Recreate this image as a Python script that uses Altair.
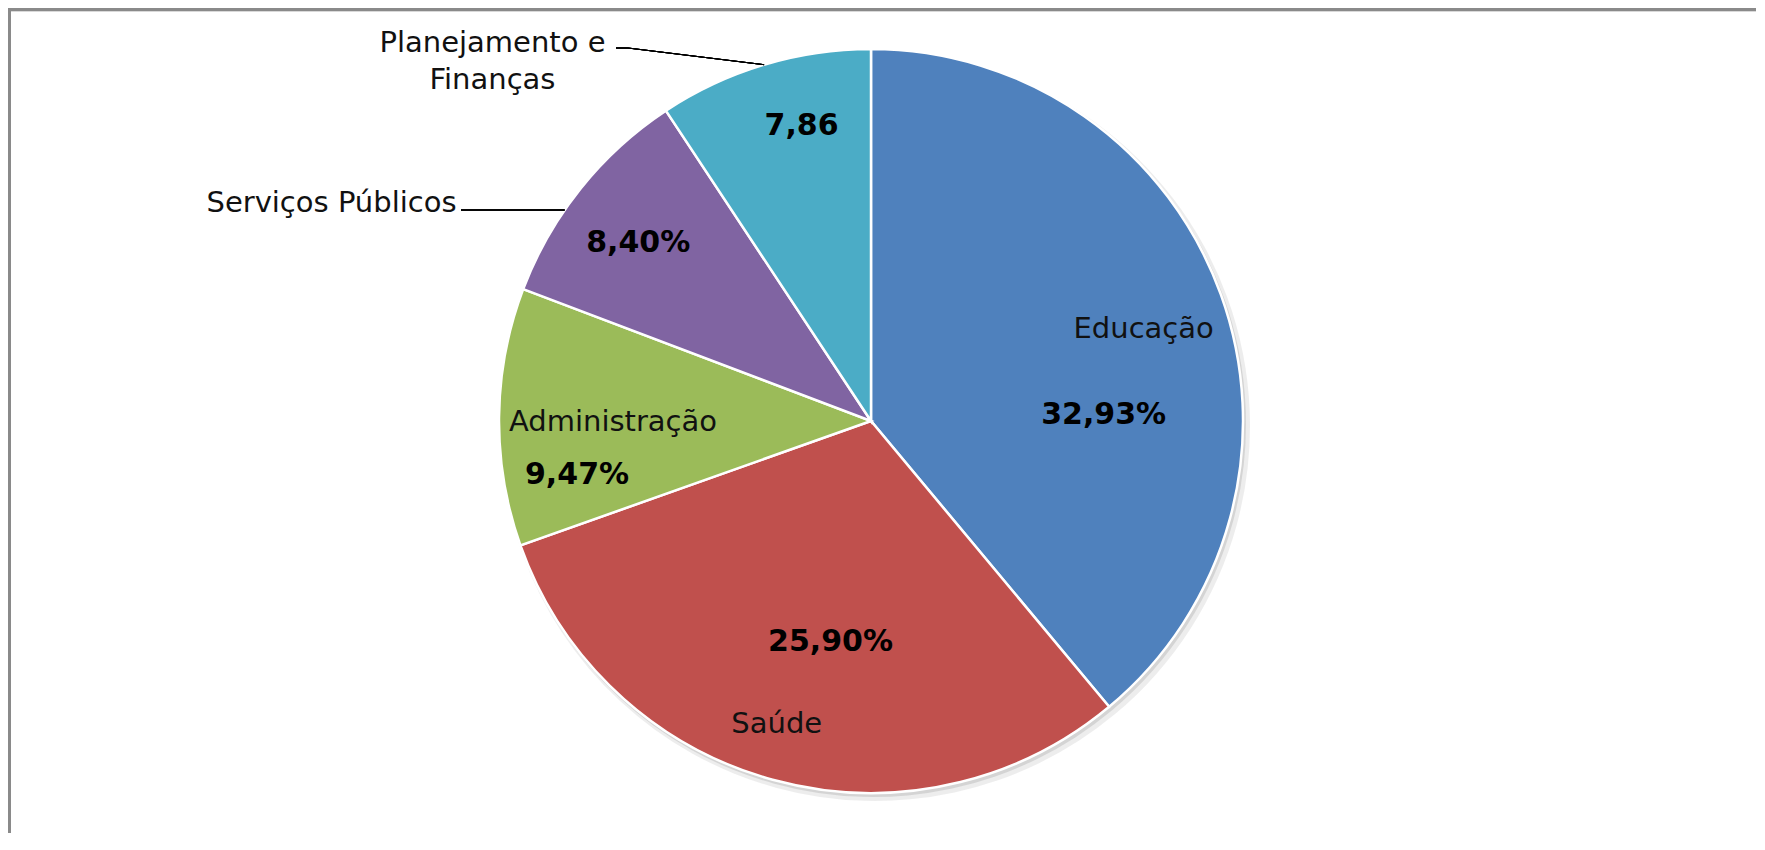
import math
import altair as alt
import pandas as pd

# ---- data ----
categories = ["Educação", "Saúde", "Administração", "Serviços Públicos", "Planejamento e Finanças"]
values = [32.93, 25.90, 9.47, 8.40, 7.86]
value_labels = ["32,93%", "25,90%", "9,47%", "8,40%", "7,86"]
name_labels = ["Educação", "Saúde", "Administração", "Serviços Públicos", "Planejamento e\nFinanças"]
colors = ["#4F81BD", "#C0504D", "#9BBB59", "#8064A2", "#4BACC6"]

df = pd.DataFrame({
    "categoria": categories,
    "valor": values,
    "rotulo": value_labels,
    "nome": name_labels,
    "ordem": list(range(len(categories))),
})

# ---- layout ----
W, H = 1748, 825
CX, CY = 863, 413
R = 372
FONT = "DejaVu Sans"

color_enc = alt.Color("categoria:N", scale=alt.Scale(domain=categories, range=colors), legend=None)

base = alt.Chart(df).encode(
    theta=alt.Theta("valor:Q", stack=True),
    order=alt.Order("ordem:Q"),
)

shadow1 = base.mark_arc(radius=R + 3, color="#9a9a9a", opacity=0.18).encode(
    x=alt.value(CX + 4), y=alt.value(CY + 5))
shadow2 = base.mark_arc(radius=R + 1, color="#8a8a8a", opacity=0.25).encode(
    x=alt.value(CX + 2), y=alt.value(CY + 3))
pie = base.mark_arc(radius=R, stroke="white", strokeWidth=2.5).encode(
    color=color_enc, x=alt.value(CX), y=alt.value(CY))

# polar positions of each slice's middle, for labels
polar = (
    alt.Chart(df)
    .transform_joinaggregate(total="sum(valor)")
    .transform_window(cum="sum(valor)", sort=[alt.SortField("ordem")], frame=[None, 0])
    .transform_calculate(mid="(datum.cum - datum.valor / 2) / datum.total")
)
theta_mid = alt.Theta("mid:Q", scale=alt.Scale(domain=[0, 1], range=[0, 2 * math.pi]))


def label(cat, field, radius, dx, dy, bold, align="center"):
    return polar.transform_filter(alt.datum.categoria == cat).mark_text(
        radius=radius, dx=dx, dy=dy, align=align, baseline="middle",
        font=FONT, fontSize=30 if bold else 29,
        fontWeight="bold" if bold else "normal",
        color="#000000" if bold else "#111111",
        lineBreak="\n", lineHeight=37,
    ).encode(theta=theta_mid, text=alt.Text(f"{field}:N"), x=alt.value(CX), y=alt.value(CY))


labels = [
    label("Educação", "nome", 290, 0, 7, False),
    label("Educação", "rotulo", 240, 7, 76, True),
    label("Saúde", "rotulo", 225, 19, 4, True),
    label("Saúde", "nome", 315, -11, -1, False),
    label("Administração", "nome", 258, 0, 4, False),
    label("Administração", "rotulo", 295, 1, 57, True),
    label("Serviços Públicos", "rotulo", 293, -4, 5, True),
    label("Planejamento e Finanças", "rotulo", 307, 19, -1, True),
    label("Serviços Públicos", "nome", 459, -56, 69, False, align="right"),
    label("Planejamento e Finanças", "nome", 377, -270, -17, False),
]

# leader lines (annotation)
sv_y = 202
sv_edge = CX - math.sqrt(R ** 2 - (sv_y - CY) ** 2)
lead_sv = alt.Chart(df).mark_rule(color="#000000", strokeWidth=1).encode(
    x=alt.value(453), x2=alt.value(sv_edge), y=alt.value(sv_y), y2=alt.value(sv_y))
ang = math.radians(343.3)
pl_ex, pl_ey = CX + R * math.sin(ang), CY - R * math.cos(ang)
lead_pl1 = alt.Chart(df).mark_rule(color="#000000", strokeWidth=1).encode(
    x=alt.value(608), x2=alt.value(620), y=alt.value(40), y2=alt.value(40))
lead_pl2 = alt.Chart(df).mark_rule(color="#000000", strokeWidth=1).encode(
    x=alt.value(620), x2=alt.value(pl_ex), y=alt.value(40), y2=alt.value(pl_ey))

# frame
top_border = alt.Chart(df).mark_rule(color="#8a8a8a", strokeWidth=3).encode(
    x=alt.value(0), x2=alt.value(W), y=alt.value(1.5), y2=alt.value(1.5))
top_border2 = alt.Chart(df).mark_rule(color="#d9d9d9", strokeWidth=1).encode(
    x=alt.value(0), x2=alt.value(W), y=alt.value(3.5), y2=alt.value(3.5))
left_border = alt.Chart(df).mark_rule(color="#8a8a8a", strokeWidth=3).encode(
    x=alt.value(1.5), x2=alt.value(1.5), y=alt.value(0), y2=alt.value(H))

chart = (
    alt.layer(shadow1, shadow2, pie, *labels, lead_sv, lead_pl1, lead_pl2,
              top_border, top_border2, left_border)
    .resolve_scale(theta="independent")
    .properties(width=W, height=H, autosize=alt.AutoSizeParams(type="none"), padding=0,
                background="white")
    .configure_view(stroke=None)
)

chart.save("out.html", embed_options={"renderer": "svg", "actions": False})
